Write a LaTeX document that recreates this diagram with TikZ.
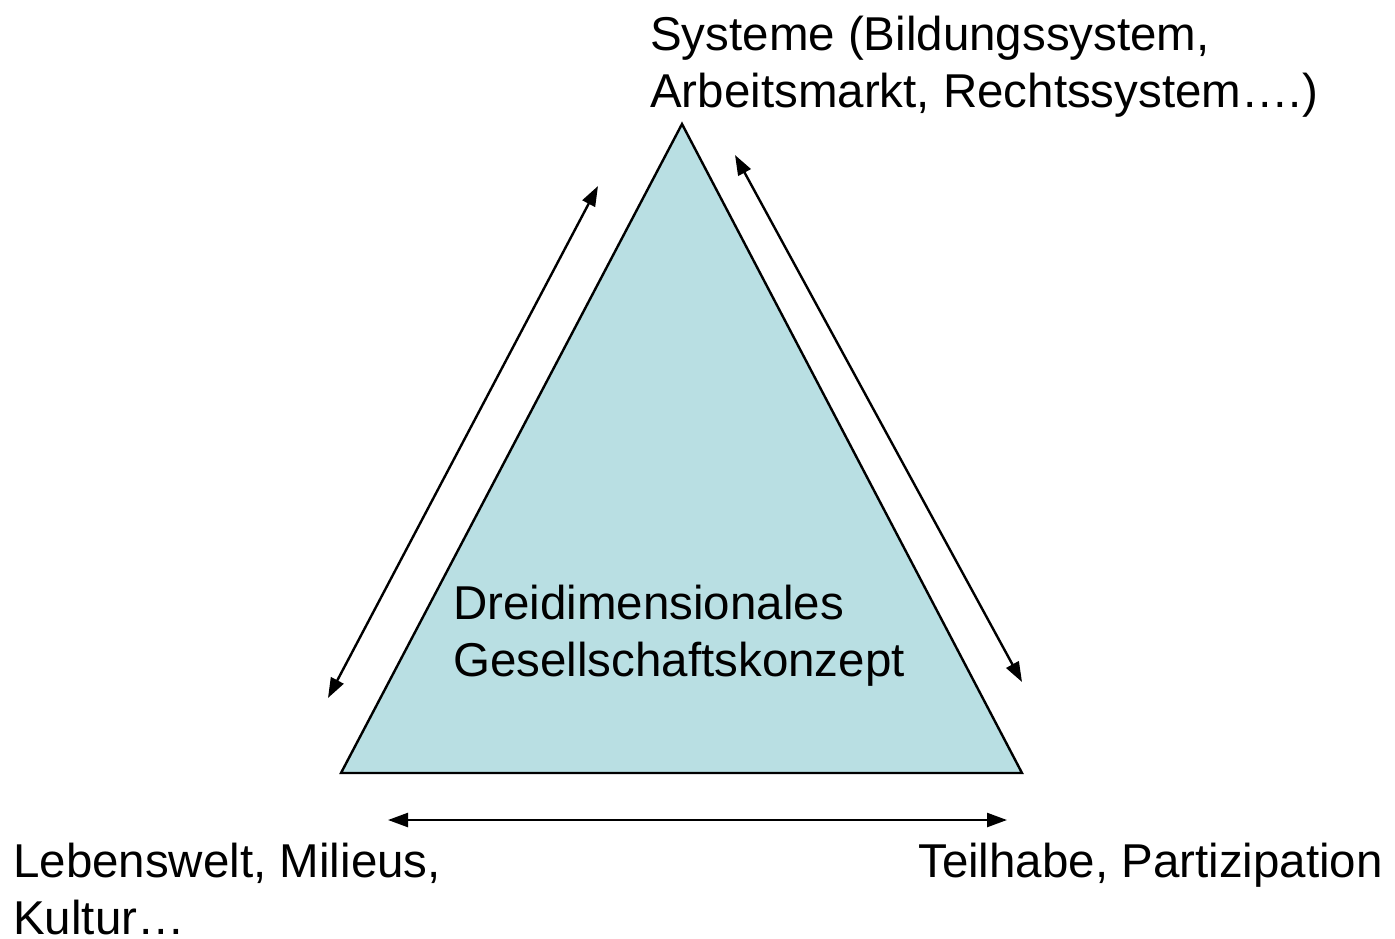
\documentclass[tikz,border=0pt]{standalone}
\usepackage{fontspec}
\setmainfont{Liberation Sans}
\usetikzlibrary{arrows.meta}
\definecolor{trifill}{RGB}{185,223,227}
\tikzset{
  lbl/.style={inner sep=0pt, anchor=base west, align=left, font=\fontsize{47.5}{57}\selectfont},
  edge/.style={line width=2.4pt, black},
  dbl/.style={line width=2.4pt, {Triangle[length=20pt,width=14pt]}-{Triangle[length=20pt,width=14pt]}}
}
\begin{document}
\begin{tikzpicture}[x=1pt,y=-1pt]
\useasboundingbox (0,0) rectangle (1395,938);
% triangle corners
\coordinate (top) at (682,124);
\coordinate (bl) at (341,773);
\coordinate (br) at (1022,773);
\filldraw[edge, fill=trifill, line join=miter] (top) -- (bl) -- (br) -- cycle;
% labels (anchor = baseline of last line)
\node[lbl] (sys) at (650,107) {Systeme (Bildungssystem,\\Arbeitsmarkt, Rechtssystem….)};
\node[lbl] (center) at (453,676) {Dreidimensionales\\Gesellschaftskonzept};
\node[lbl] (leb) at (13,934) {Lebenswelt, Milieus,\\Kultur…};
\node[lbl] (teil) at (918,877) {Teilhabe, Partizipation};
% arrow ends
\coordinate (la1) at (328,698);
\coordinate (la2) at (598,186);
\coordinate (ra1) at (735,155);
\coordinate (ra2) at (1022,682);
\coordinate (ba1) at (388,820);
\coordinate (ba2) at (1007,820);
\draw[dbl] (la1) -- (la2);
\draw[dbl] (ra1) -- (ra2);
\draw[dbl] (ba1) -- (ba2);
\end{tikzpicture}
\end{document}
